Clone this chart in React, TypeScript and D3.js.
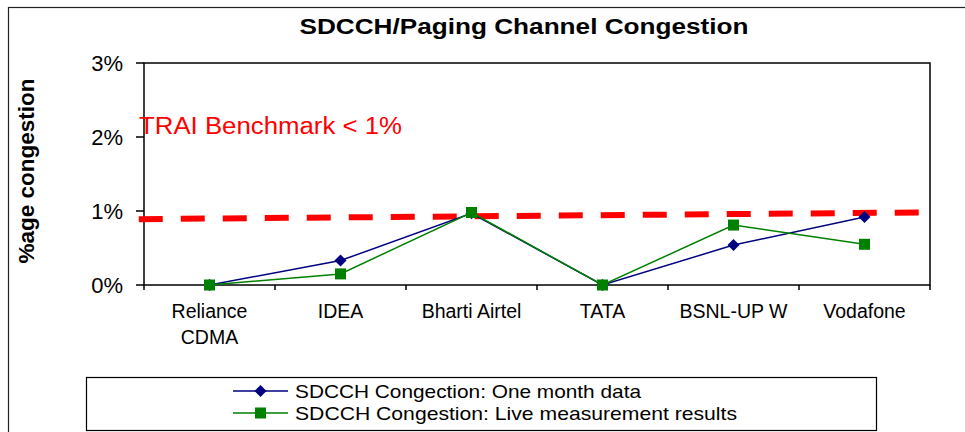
import * as React from 'react';
import * as d3 from 'd3';

// chart values
const operators = ['Reliance\nCDMA', 'IDEA', 'Bharti Airtel', 'TATA', 'BSNL-UP W', 'Vodafone'];
const oneMonthData = [0, 0.33, 0.97, 0, 0.54, 0.92];
const liveMeasurement = [0, 0.15, 0.98, 0, 0.81, 0.55];
const yTicks = [0, 1, 2, 3];
// hand drawn benchmark line: [category position, value]
const benchmarkLine: Array<[number, number]> = [[-0.54, 0.89], [5.42, 0.98]];

const seriesNames = [
  'SDCCH Congection: One month data',
  'SDCCH Congestion: Live measurement results',
];

const width = 965;
const height = 432;
const margin = { top: 63, right: 35, bottom: 147, left: 144 };
const font = '"Liberation Sans", Arial, sans-serif';

const App = () => {
  const x = d3.scaleBand()
    .domain(operators)
    .range([margin.left, width - margin.right]);
  const xPos = d3.scaleLinear()
    .domain([-0.5, operators.length - 0.5])
    .range([margin.left, width - margin.right]);
  const y = d3.scaleLinear()
    .domain([0, 3])
    .range([height - margin.bottom, margin.top]);

  const line = d3.line<number>()
    .x((d, i) => (x(operators[i]) as number) + x.bandwidth() / 2)
    .y(d => y(d));

  const benchPath = d3.line<[number, number]>()
    .x(d => xPos(d[0]))
    .y(d => y(d[1]))(benchmarkLine);

  const cx = (i: number) => (x(operators[i]) as number) + x.bandwidth() / 2;
  const plotBottom = y(0);
  const plotRight = width - margin.right;

  // legend settings
  const legendX = 86;
  const legendY = 377;
  const legendRows = [391, 413];

  return (
    <div style={{ position: 'absolute', left: 0, top: 0 }}>
      <svg width={width} height={height} style={{ display: 'block', fontFamily: font }}>
        <rect x={0} y={0} width={width} height={height} fill="#fff" />
        {/* outer chart frame */}
        <rect x={8.5} y={7.5} width={1000} height={500} fill="none" stroke="#222" strokeWidth={1.2} />

        {/* title */}
        <text
          x={524}
          y={34}
          textAnchor="middle"
          fontSize={21.5}
          fontWeight="bold"
          textLength={449}
          lengthAdjust="spacingAndGlyphs"
        >
          SDCCH/Paging Channel Congestion
        </text>

        {/* y-axis label */}
        <text
          transform={`translate(34, 171) rotate(-90)`}
          textAnchor="middle"
          fontSize={21.5}
          fontWeight="bold"
          textLength={185}
          lengthAdjust="spacingAndGlyphs"
        >
          %age congestion
        </text>

        {/* plot frame */}
        <rect
          x={margin.left}
          y={margin.top}
          width={plotRight - margin.left}
          height={plotBottom - margin.top}
          fill="#fff"
          stroke="#000"
          strokeWidth={1.5}
        />

        {/* y ticks */}
        {yTicks.map(t => (
          <g key={t}>
            <line x1={margin.left - 8} x2={margin.left} y1={y(t)} y2={y(t)} stroke="#000" strokeWidth={1.5} />
            <text x={123} y={y(t) + 8} textAnchor="end" fontSize={22}>{`${t}%`}</text>
          </g>
        ))}

        {/* x ticks */}
        {operators.concat(['end']).map((op, i) => {
          const tx = i < operators.length ? (x(op) as number) : plotRight;
          return (
            <line key={op} x1={tx} x2={tx} y1={plotBottom} y2={plotBottom + 5} stroke="#000" strokeWidth={1.5} />
          );
        })}

        {/* category labels */}
        {operators.map((op, i) => (
          <text key={op} x={cx(i)} y={318} textAnchor="middle" fontSize={19.5}>
            {op.split('\n').map((s, j) => (
              <tspan key={j} x={cx(i)} dy={j === 0 ? 0 : 26}>{s}</tspan>
            ))}
          </text>
        ))}

        {/* benchmark */}
        <path
          d={benchPath as string}
          fill="none"
          stroke="#ff0000"
          strokeWidth={6}
          strokeDasharray="24 18"
        />
        <text x={139} y={134} fill="#ff0000" fontSize={23} textLength={263} lengthAdjust="spacingAndGlyphs">
          TRAI Benchmark &lt; 1%
        </text>

        {/* series */}
        <path d={line(oneMonthData) as string} fill="none" stroke="#000080" strokeWidth={1.5} />
        <path d={line(liveMeasurement) as string} fill="none" stroke="#008000" strokeWidth={1.5} />
        {oneMonthData.map((v, i) => (
          <path key={`a${i}`} d="M0,-6L6,0L0,6L-6,0Z" transform={`translate(${cx(i)},${y(v)})`} fill="#000080" />
        ))}
        {liveMeasurement.map((v, i) => (
          <rect key={`b${i}`} x={cx(i) - 5.5} y={y(v) - 5.5} width={11} height={11} fill="#008000" />
        ))}

        {/* legend */}
        <rect x={legendX + 0.5} y={legendY + 0.5} width={790} height={53} fill="#fff" stroke="#000" strokeWidth={1.2} />
        {seriesNames.map((name, i) => (
          <g key={name}>
            <line
              x1={233}
              x2={288}
              y1={legendRows[i]}
              y2={legendRows[i]}
              stroke={i === 0 ? '#000080' : '#008000'}
              strokeWidth={1.5}
            />
            {i === 0
              ? <path d="M0,-6L6,0L0,6L-6,0Z" transform={`translate(260.5,${legendRows[i]})`} fill="#000080" />
              : <rect x={255} y={legendRows[i] - 5.5} width={11} height={11} fill="#008000" />}
            <text
              x={295}
              y={legendRows[i] + 7}
              fontSize={19}
              textLength={i === 0 ? 346 : 442}
              lengthAdjust="spacingAndGlyphs"
            >
              {name}
            </text>
          </g>
        ))}
      </svg>
    </div>
  );
};

export default App;
